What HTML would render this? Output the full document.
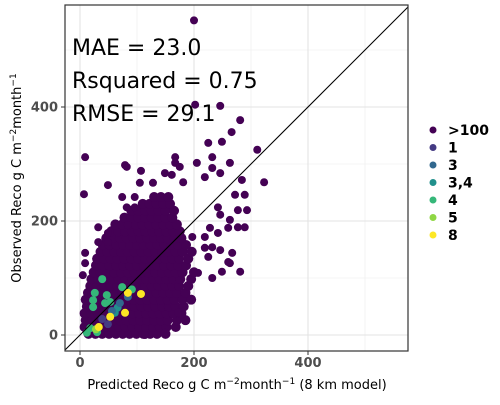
<!DOCTYPE html>
<html><head><meta charset="utf-8"><style>
body{margin:0;background:#fff;}
svg text{font-family:"DejaVu Sans","Liberation Sans",sans-serif;}
</style></head><body>
<svg id="chart" width="500" height="400" xmlns="http://www.w3.org/2000/svg">
<defs><clipPath id="clip"><rect x="65" y="5" width="343" height="346"/></clipPath></defs>
<rect x="0" y="0" width="500" height="400" fill="#fff"/>
<g id="grid"></g>
<g id="points" clip-path="url(#clip)"></g>
<g id="overlay" clip-path="url(#clip)"></g>
<rect x="65" y="5" width="343" height="346" fill="none" stroke="#333" stroke-width="1.2"/>
<g id="axes"></g>
<text x="72" y="55" font-size="22" fill="#000">MAE = 23.0</text>
<text x="72" y="88" font-size="22" fill="#000">Rsquared = 0.75</text>
<text x="72" y="121" font-size="22" fill="#000">RMSE = 29.1</text>
<text x="237" y="389" font-size="13" text-anchor="middle" fill="#000">Predicted Reco g C m<tspan dy="-5" font-size="9">−2</tspan><tspan dy="5">month</tspan><tspan dy="-5" font-size="9">−1</tspan><tspan dy="5"> (8 km model)</tspan></text>
<text transform="translate(21,178) rotate(-90)" font-size="13" text-anchor="middle" fill="#000">Observed Reco g C m<tspan dy="-5" font-size="9">−2</tspan><tspan dy="5">month</tspan><tspan dy="-5" font-size="9">−1</tspan></text>
<g id="legend"></g>
</svg>
<script>
const NS="http://www.w3.org/2000/svg";
// ---- data ----
const majorTicks=[0,200,400];
const minorTicks=[100,300,500];
const tickLabels=["0","200","400"];
const groups=[">100","1","3","3,4","4","5","8"];
const groupColors=["#440154","#443a83","#31688e","#21908c","#35b779","#8fd744","#fde725"];
// >100 dense core: observed value per row, predicted values per row
const coreObs=[2,14,26,38,50,62,74,86,98,110,122,134,146,158,170,182,194,206,218,230,242];
const corePred=[
[15,27,39,51,63,75,87,99,111,123,135,150],
[8,20,32,44,56,68,80,92,104,116,128,140,152,168],
[10,22,34,46,58,70,82,94,106,118,130,142,154,170,185],
[8,20,32,44,56,68,80,92,104,116,128,140,152,164,178],
[12,24,36,48,60,72,84,96,108,120,132,144,156,168,182],
[10,22,34,46,58,70,82,94,106,118,130,142,154,166,180,195],
[14,26,38,50,62,74,86,98,110,122,134,146,158,170,185],
[18,30,42,54,66,78,90,102,114,126,138,150,162,174,190],
[20,32,44,56,68,80,92,104,116,128,140,152,164,176,195],
[24,36,48,60,72,84,96,108,120,132,144,156,168,180,200],
[28,40,52,64,76,88,100,112,124,136,148,160,172,186],
[30,42,54,66,78,90,102,114,126,138,150,162,174,190],
[36,48,60,72,84,96,108,120,132,144,156,168,180,196],
[40,52,64,76,88,100,112,124,136,148,160,172,186],
[46,58,70,82,94,106,118,130,142,154,166,178],
[55,67,79,91,103,115,127,139,151,163,175],
[62,74,86,98,110,122,134,146,158,170],
[78,90,102,114,126,138,150,162],
[90,102,114,126,138,150,165],
[110,122,134,146,158],
[130,142,155]];
// >100 scattered points
const outPred=[200,9,7,82,107,49,281,246,202,266,311,323,284,289,293,277,260,242,232,246,267,263,281,249,232,207,219,197,172,149,114,9,9,5,225,249,232,167,167,175,205,232,219,246,263,149,128,105,79,96,82,96,74,32,49,32,49,84,181,161,272,242,246,277,263,289,228,219,225,260];
const outObs=[552,312,247,295,288,263,377,402,404,356,325,268,272,246,219,189,188,179,154,149,144,126,111,111,100,109,153,172,39,4,0,144,126,105,337,339,312,312,302,295,302,293,277,284,302,284,267,267,298,242,224,224,242,189,179,163,163,193,268,281,246,224,211,219,202,189,188,172,137,128];
// other groups
const g1Pred=[39,49], g1Obs=[28,19];
const g3Pred=[70,84,56], g3Obs=[56,67,42];
const g34Pred=[61,66], g34Obs=[39,48];
const g4Pred=[39,74,26,23,23,47,44,53,30,18,12,91], g4Obs=[98,84,74,61,49,70,56,58,5,12,4,80];
const g5Pred=[28], g5Obs=[10];
const g8Pred=[107,53,84,79,33], g8Obs=[72,32,74,39,14];
// ---- scales ----
const sx=v=>80+v*0.57;
const sy=v=>335-v*0.57;
const grid=document.getElementById('grid'), pts=document.getElementById('points'),
 ov=document.getElementById('overlay'), axes=document.getElementById('axes'), leg=document.getElementById('legend');
function mk(tag,attrs,parent){const e=document.createElementNS(NS,tag);for(const k in attrs)e.setAttribute(k,attrs[k]);parent.appendChild(e);return e;}
minorTicks.forEach(t=>{
 let l=mk('line',{x1:sx(t),x2:sx(t),y1:5,y2:351,stroke:"#ebebeb","stroke-width":0.6},grid);
 
 
 let h=mk('line',{x1:65,x2:408,y1:sy(t),y2:sy(t),stroke:"#ebebeb","stroke-width":0.6},grid);
 
 
});
majorTicks.forEach((t,i)=>{
 let l=mk('line',{x1:sx(t),x2:sx(t),y1:5,y2:351,stroke:"#e3e3e3","stroke-width":1.1},grid);
 
 
 let h=mk('line',{x1:65,x2:408,y1:sy(t),y2:sy(t),stroke:"#e3e3e3","stroke-width":1.1},grid);
 
 
 let tx=mk('line',{x1:sx(t),x2:sx(t),y1:351,y2:355,stroke:"#333"},axes);
 
 
 let ty=mk('line',{x1:61,x2:65,y1:sy(t),y2:sy(t),stroke:"#333"},axes);
 
 
 let xl=mk('text',{x:sx(t),y:367,"font-size":13,"font-weight":"bold",fill:"#4d4d4d","text-anchor":"middle"},axes);
 xl.textContent=tickLabels[i];
 
 
 let yl=mk('text',{x:58,y:sy(t)+4.5,"font-size":13,"font-weight":"bold",fill:"#4d4d4d","text-anchor":"end"},axes);
 yl.textContent=tickLabels[i];
 
 
});
function dot(x,y,c,name,r){
 const e=mk('circle',{cx:sx(x),cy:sy(y),r:r,fill:c},pts);
 
 
}
coreObs.forEach((y,i)=>corePred[i].forEach(x=>dot(x,y,groupColors[0],'point-gt100',5)));
outPred.forEach((x,i)=>dot(x,outObs[i],groupColors[0],'point-gt100',4));
g4Pred.forEach((x,i)=>dot(x,g4Obs[i],groupColors[4],'point-group-4',4));
g34Pred.forEach((x,i)=>dot(x,g34Obs[i],groupColors[3],'point-group-3-4',4));
g3Pred.forEach((x,i)=>dot(x,g3Obs[i],groupColors[2],'point-group-3',4));
g1Pred.forEach((x,i)=>dot(x,g1Obs[i],groupColors[1],'point-group-1',4));
g5Pred.forEach((x,i)=>dot(x,g5Obs[i],groupColors[5],'point-group-5',4));
g8Pred.forEach((x,i)=>dot(x,g8Obs[i],groupColors[6],'point-group-8',4));
const d=mk('line',{x1:sx(-40),y1:sy(-40),x2:sx(600),y2:sy(600),stroke:"#000","stroke-width":1.1},ov);


groups.forEach((g,i)=>{
 const y=130+i*17.5;
 const c=mk('circle',{cx:433,cy:y,r:3.5,fill:groupColors[i]},leg);
 
 
 const t=mk('text',{x:448,y:y+5,"font-size":14,"font-weight":"bold",fill:"#000"},leg);
 t.textContent=g;
 
 
});
</script>
</body></html>
